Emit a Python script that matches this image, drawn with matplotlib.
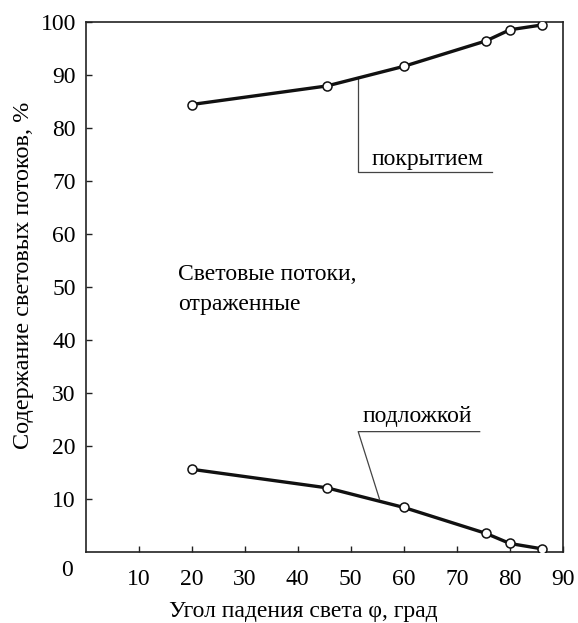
import matplotlib.pyplot as plt

# data
angle = [20, 45.5, 60, 75.5, 80, 86]
coating = [84.4, 87.9, 91.6, 96.4, 98.5, 99.4]    # отраженные покрытием
substrate = [15.6, 12.1, 8.4, 3.5, 1.6, 0.6]      # отраженные подложкой
xticks = [10, 20, 30, 40, 50, 60, 70, 80, 90]
yticks = [10, 20, 30, 40, 50, 60, 70, 80, 90, 100]

plt.rcParams['font.family'] = ['Liberation Serif', 'DejaVu Serif']
fs = 17

fig = plt.figure(figsize=(5.78, 6.23), dpi=100)
ax = fig.add_axes([0.148, 0.114, 0.826, 0.851])

line_kw = dict(color='#111111', lw=2.4, marker='o', ms=6.5,
               mfc='white', mec='#111111', mew=1.1, zorder=3)
ax.plot(angle, coating, **line_kw)
ax.plot(angle, substrate, **line_kw)

ax.set_xlim(0, 90)
ax.set_ylim(0, 100)
ax.set_xticks(xticks)
ax.set_yticks(yticks)
ax.tick_params(direction='in', length=4.5, width=1, labelsize=fs, color='#222222')
ax.tick_params(axis='x', pad=12)
ax.tick_params(axis='y', pad=7)
for s in ax.spines.values():
    s.set_linewidth(1.2)
    s.set_color('#222222')

ax.annotate('0', xy=(0, 0), xytext=(-13, -13), textcoords='offset points',
            ha='center', va='center', fontsize=fs, annotation_clip=False)

ax.set_xlabel('Угол падения света φ, град', fontsize=fs)
ax.xaxis.set_label_coords(0.457, -0.093)
ax.set_ylabel('Содержание световых потоков, %', fontsize=17.5)
ax.yaxis.set_label_coords(-0.108, 0.522)

# leader lines and labels
lead = dict(color='#444444', lw=0.9, zorder=2)
ax.plot([51.4, 51.4, 76.6], [89.5, 71.6, 71.6], **lead)
ax.text(54.0, 73.0, 'покрытием', fontsize=fs, ha='left', va='baseline')
ax.plot([55.4, 51.4, 74.3], [10.0, 22.7, 22.7], **lead)
ax.text(52.3, 24.6, 'подложкой', fontsize=fs, ha='left', va='baseline')

ax.text(17.4, 51.3, 'Световые потоки,', fontsize=fs, ha='left', va='baseline')
ax.text(17.4, 45.7, 'отраженные', fontsize=fs, ha='left', va='baseline')

fig.savefig('out.png', dpi=100)
